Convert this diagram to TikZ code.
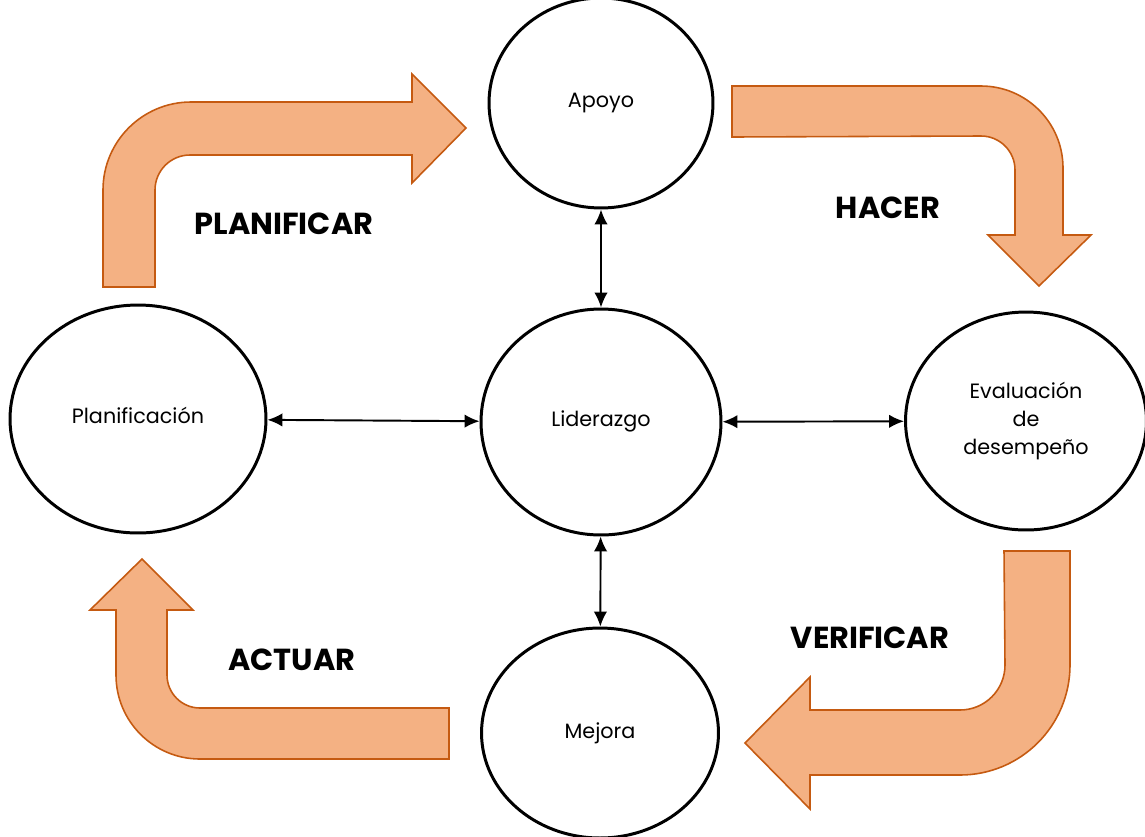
\documentclass[tikz,border=0pt]{standalone}
\usepackage{fontspec}
\setmainfont{Poppins}
\usepackage{tikz}
\usetikzlibrary{shapes.geometric,arrows.meta}
\definecolor{flecha}{HTML}{F4B183}
\definecolor{borde}{HTML}{C55A11}

\begin{document}
\begin{tikzpicture}[x=0.02cm,y=-0.02cm,
    etapa/.style={ellipse, draw, line width=1.7pt, inner sep=0pt, align=center, font=\fontsize{11.8}{16}\selectfont},
    ciclo/.style={fill=flecha, draw=borde, line width=0.9pt, line join=miter},
    fase/.style={font=\fontsize{17.3}{20}\selectfont\bfseries},
    enlace/.style={{Latex[length=0.3cm,width=0.27cm]}-{Latex[length=0.3cm,width=0.27cm]}, line width=1.1pt}]
            \useasboundingbox (0,0) rectangle (1145,836);
            \draw[ciclo] (103,287) -- (103,190) arc[start angle=180,end angle=270,radius=88] -- (412,102) -- (412,74) -- (466,128) -- (412,183) -- (412,155) -- (190,155) arc[start angle=270,end angle=180,radius=35] -- (155,287) -- cycle;
            \draw[ciclo] (732,86) -- (981,86) arc[start angle=270,end angle=360,radius=82] -- (1063,235) -- (1091,235) -- (1039,286) -- (988,235) -- (1015,235) -- (1015,170) arc[start angle=0,end angle=-90,radius=34] -- (732,137) -- cycle;
            \draw[ciclo] (1004,551) -- (1070,551) -- (1070,665) arc[start angle=0,end angle=90,radius=110] -- (810,775) -- (810,809) -- (745,743) -- (810,677) -- (810,710) -- (960,710) arc[start angle=90,end angle=0,radius=45] -- cycle;
            \draw[ciclo] (449,708) -- (449,759) -- (200,759) arc[start angle=90,end angle=180,radius=84] -- (116,610) -- (90,610) -- (142,559) -- (193,610) -- (167,610) -- (167,675) arc[start angle=180,end angle=90,radius=33] -- cycle;
            \node[etapa, minimum width=4.48cm, minimum height=4.2cm] (apoyo) at (601,103) {Apoyo};
            \node[etapa, minimum width=4.8cm, minimum height=4.52cm] (lider) at (601,422) {\raisebox{4pt}{Liderazgo}};
            \node[etapa, minimum width=5.12cm, minimum height=4.56cm] (plan) at (138,419) {\raisebox{4pt}{Planificación}};
            \node[etapa, minimum width=4.82cm, minimum height=4.36cm] (eval) at (1026,421) {\raisebox{4pt}{\begin{tabular}{@{}c@{}}Evaluación\\de\\desempeño\end{tabular}}};
            \node[etapa, minimum width=4.74cm, minimum height=4.2cm] (mejora) at (600,733) {Mejora};
            \node[fase] (planificar) at (284,224) {PLANIFICAR};
            \node[fase] (hacer) at (888,208) {HACER};
            \node[fase] (verificar) at (870,638) {VERIFICAR};
            \node[fase] (actuar) at (292,660) {ACTUAR};
            \draw[enlace] (apoyo) -- (lider);
            \draw[enlace] (plan) -- (lider);
            \draw[enlace] (lider) -- (eval);
            \draw[enlace] (lider) -- (mejora);
        \end{tikzpicture}
\end{document}
